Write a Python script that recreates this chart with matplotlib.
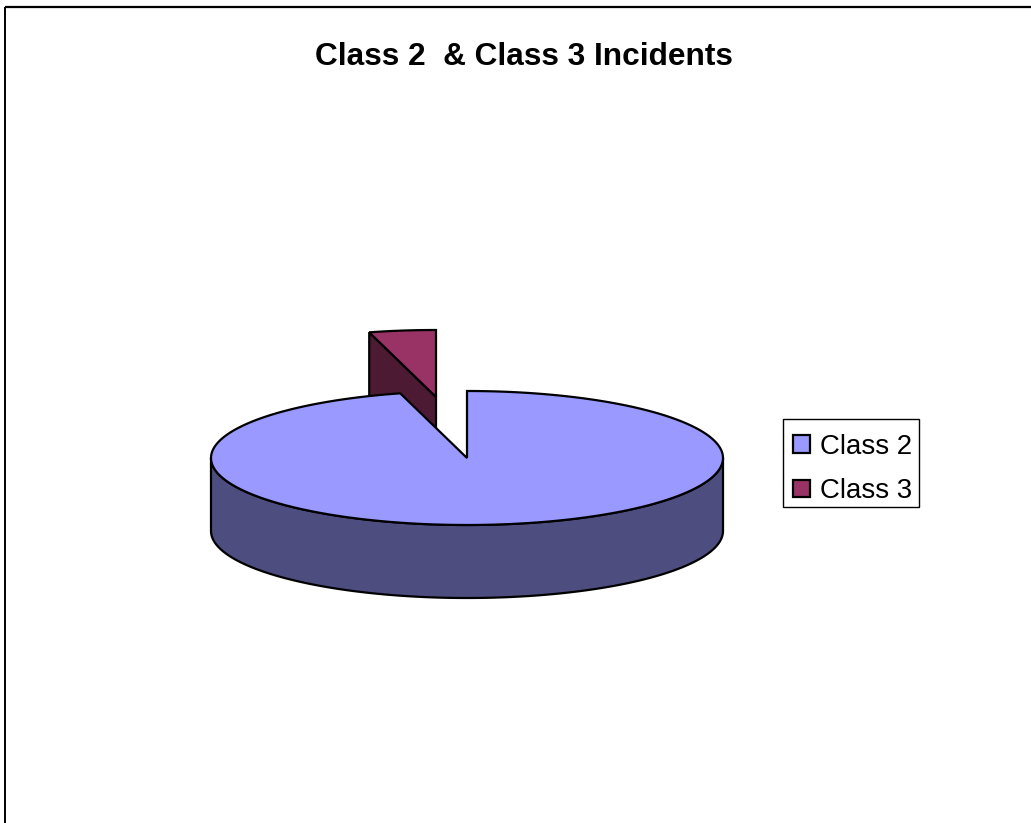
import numpy as np
import matplotlib
matplotlib.use("Agg")
import matplotlib.pyplot as plt
from matplotlib.patches import Patch, Polygon, Rectangle

plt.rcParams["font.family"] = ["Liberation Sans", "DejaVu Sans"]

categories = ["Class 2", "Class 3"]
values = [95.8, 4.2]
colors = ["#9999FF", "#993366"]
side_colors = ["#4D4D80", "#4D1A33"]

title = "Class 2  & Class 3 Incidents"

# pie geometry in pixels of the figure
CX, CY = 467, 458
RX, RY = 256, 67
DEPTH = 73
EXPLODE = (-31, -61)
EDGE = "black"
LW = 1.6


def arc(a0, a1, cx=CX, cy=CY):
    """Points on the ellipse, angles in degrees clockwise from 12 o'clock."""
    t = np.radians(np.linspace(a0, a1, max(int(abs(a1 - a0)), 2)))
    return np.column_stack([cx + RX * np.sin(t), cy - RY * np.cos(t)])


fig = plt.figure(figsize=(10.31, 8.23), dpi=100)
ax = fig.add_axes([0, 0, 1, 1])
ax.set_xlim(0, 1031)
ax.set_ylim(823, 0)
ax.axis("off")

ax.plot([5, 5], [823, 7], color="black", lw=1.4, solid_capstyle="butt")
ax.plot([5, 1031], [7, 7], color="black", lw=1.6, solid_capstyle="butt")

ends = np.cumsum(values) / np.sum(values) * 360
split = ends[0]

# ── Class 3, lifted out of the pie ────────────────────────────────────────────
cx3, cy3 = CX + EXPLODE[0], CY + EXPLODE[1]
rim = arc(split, 360, cx3, cy3)
apex = np.array([[cx3, cy3]])
cut = np.vstack([apex, rim[:1], rim[:1] + [0, DEPTH], apex + [0, DEPTH]])
ax.add_patch(Polygon(cut, closed=True, fc=side_colors[1], ec=EDGE, lw=LW, zorder=2))
ax.add_patch(Polygon(np.vstack([apex, rim]), closed=True, fc=colors[1], ec=EDGE, lw=LW, zorder=3))

# ── Class 2 ───────────────────────────────────────────────────────────────────
front = arc(90, 270)
wall = np.vstack([front, front[::-1] + [0, DEPTH]])
ax.add_patch(Polygon(wall, closed=True, fc=side_colors[0], ec=EDGE, lw=LW, zorder=4))
top = np.vstack([[[CX, CY]], arc(0, split)])
ax.add_patch(Polygon(top, closed=True, fc=colors[0], ec=EDGE, lw=LW, zorder=5))

ax.text(523.5, 65, title, fontsize=22.8, fontweight="bold", ha="center", va="baseline")

# legend frame drawn apart: the rows sit lower than a symmetric legend box allows
ax.add_patch(Rectangle((783, 419), 136, 88, fc="white", ec="black", lw=1.0, zorder=6))
handles = [Patch(fc=c, ec="black", lw=1.6) for c in colors]
leg = ax.legend(
    handles, categories, loc="upper left", bbox_to_anchor=(783 / 1031, 1 - 424 / 823),
    borderaxespad=0, fontsize=19.9, handlelength=0.62, handleheight=0.62,
    handletextpad=0.36, labelspacing=0.66, borderpad=0.36, frameon=False,
)
leg.set_zorder(7)

fig.savefig("out.png", dpi=100)
